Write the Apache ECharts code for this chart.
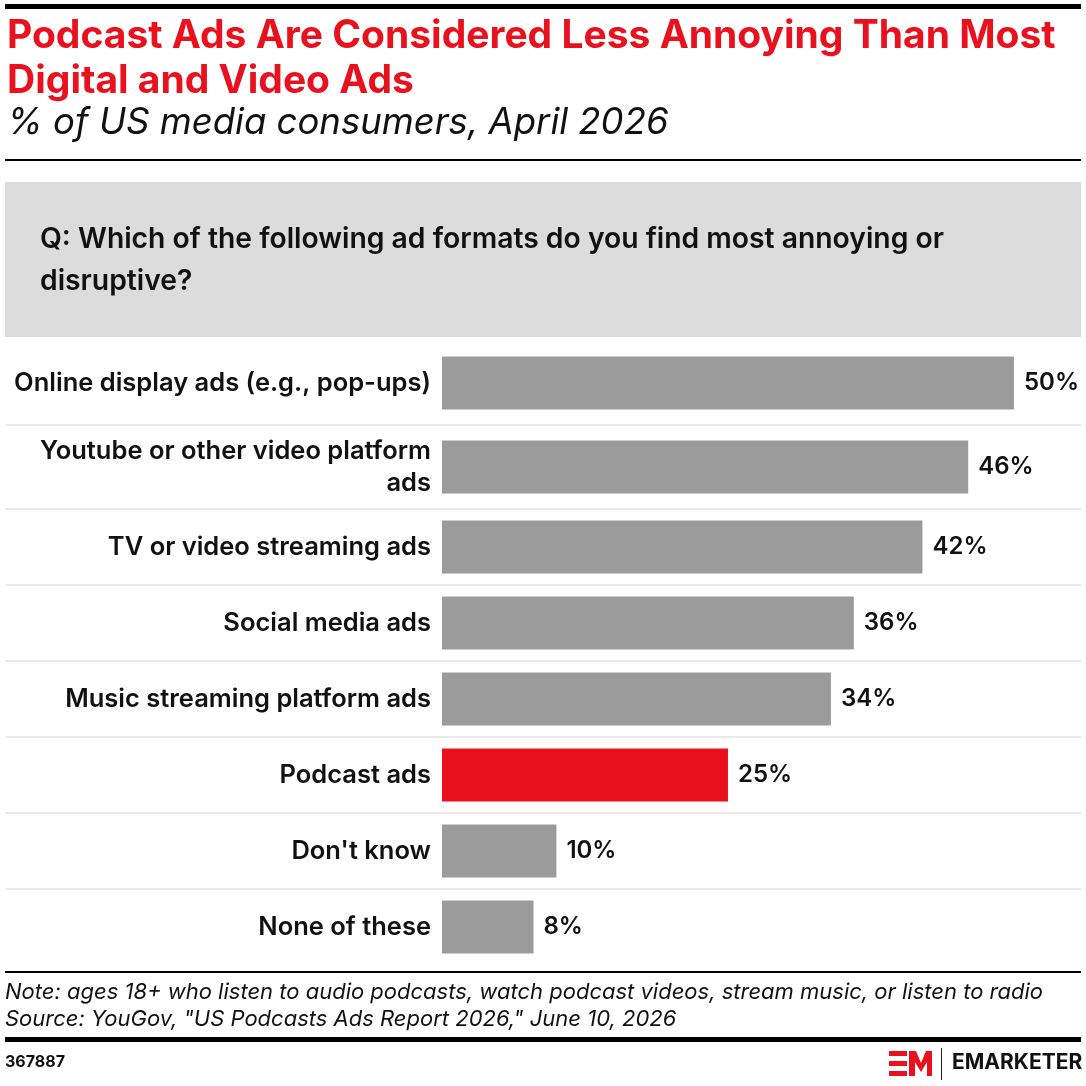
<!DOCTYPE html>
<html lang="en">
<head>
    <meta charset="UTF-8">
    <title>Podcast Ads Are Considered Less Annoying</title>
    <script src="https://cdn.jsdelivr.net/npm/echarts@6/dist/echarts.min.js"></script>
    <style>
        html, body {
            margin: 0;
            padding: 0;
            background: #fff;
        }

        #chart {
            width: 1086px;
            height: 1086px;
        }
    </style>
</head>
<body>
    <div id="chart"></div>
    <script>
        // data
        var categories = [
            'Online display ads (e.g., pop-ups)',
            'Youtube or other video platform\nads',
            'TV or video streaming ads',
            'Social media ads',
            'Music streaming platform ads',
            'Podcast ads',
            "Don't know",
            'None of these'
        ];
        var values = [50, 46, 42, 36, 34, 25, 10, 8];
        var highlightCategory = 'Podcast ads';
        // the first rows are a bit taller in the original, so they get their own grid
        var splitAt = 2;

        var FONT = 'Inter, Roboto, sans-serif';
        var GRAY = '#9b9b9b';
        var RED = '#e8111d';

        var chart = echarts.init(document.getElementById('chart'));

        function barData(cats, vals) {
            return vals.map(function (v, i) {
                return {
                    value: v,
                    itemStyle: { color: cats[i] === highlightCategory ? RED : GRAY }
                };
            });
        }

        var parts = [
            { cats: categories.slice(0, splitAt), vals: values.slice(0, splitAt), top: 341, height: 168, maxLine: true },
            { cats: categories.slice(splitAt), vals: values.slice(splitAt), top: 509, height: 456, maxLine: false }
        ];

        var option = {
            backgroundColor: '#fff',
            animation: false,
            textStyle: { fontFamily: FONT },
            grid: parts.map(function (p) {
                return { left: 5, width: 1076, top: p.top, height: p.height, containLabel: false };
            }),
            xAxis: parts.map(function (p, i) {
                return {
                    type: 'value',
                    gridIndex: i,
                    min: -38.2,
                    max: 55.86,
                    show: false
                };
            }),
            yAxis: parts.map(function (p, i) {
                return {
                    type: 'category',
                    gridIndex: i,
                    data: p.cats,
                    inverse: true,
                    axisLine: { show: false },
                    axisTick: { show: false },
                    splitLine: {
                        show: true,
                        showMinLine: false,
                        showMaxLine: p.maxLine,
                        lineStyle: { color: '#ebebeb', width: 2 }
                    },
                    axisLabel: {
                        margin: -426,
                        align: 'right',
                        color: '#111',
                        fontFamily: FONT,
                        fontSize: 25.5,
                        fontWeight: 600,
                        lineHeight: 32
                    }
                };
            }),
            series: parts.map(function (p, i) {
                return {
                    type: 'bar',
                    xAxisIndex: i,
                    yAxisIndex: i,
                    barWidth: 53,
                    data: barData(p.cats, p.vals),
                    label: {
                        show: true,
                        position: 'right',
                        distance: 10,
                        formatter: '{c}%',
                        color: '#111',
                        fontFamily: FONT,
                        fontSize: 24,
                        fontWeight: 600
                    }
                };
            }),
            graphic: [
                // top rule
                { type: 'rect', shape: { x: 5, y: 4, width: 1076, height: 5 }, style: { fill: '#000' } },
                {
                    type: 'text', left: 7, top: 14,
                    style: {
                        text: 'Podcast Ads Are Considered Less Annoying Than Most\nDigital and Video Ads',
                        fill: RED, font: 'bold 39px ' + FONT, lineHeight: 45
                    }
                },
                {
                    type: 'text', left: 7, top: 105,
                    style: {
                        text: '% of US media consumers, April 2026',
                        fill: '#111', font: 'italic 36.5px ' + FONT
                    }
                },
                { type: 'rect', shape: { x: 5, y: 159, width: 1076, height: 2 }, style: { fill: '#000' } },
                // question box
                { type: 'rect', shape: { x: 5, y: 182, width: 1076, height: 155 }, style: { fill: '#dcdcdc' } },
                {
                    type: 'text', left: 40, top: 218,
                    style: {
                        text: 'Q: Which of the following ad formats do you find most annoying or\ndisruptive?',
                        fill: '#111', font: '600 28.3px ' + FONT, lineHeight: 42
                    }
                },
                // footer
                { type: 'rect', shape: { x: 5, y: 971, width: 1076, height: 2 }, style: { fill: '#000' } },
                {
                    type: 'text', left: 5, top: 979,
                    style: {
                        text: 'Note: ages 18+ who listen to audio podcasts, watch podcast videos, stream music, or listen to radio\n' +
                            'Source: YouGov, "US Podcasts Ads Report 2026," June 10, 2026',
                        fill: '#111', font: 'italic 22px ' + FONT, lineHeight: 27
                    }
                },
                { type: 'rect', shape: { x: 5, y: 1037, width: 1076, height: 5 }, style: { fill: '#000' } },
                {
                    type: 'text', left: 5, top: 1054,
                    style: { text: '367887', fill: '#111', font: 'bold 16px ' + FONT }
                },
                // logo
                { type: 'rect', shape: { x: 889, y: 1051, width: 18, height: 5 }, style: { fill: RED } },
                { type: 'rect', shape: { x: 889, y: 1061, width: 18, height: 5 }, style: { fill: RED } },
                { type: 'rect', shape: { x: 889, y: 1071, width: 18, height: 5 }, style: { fill: RED } },
                {
                    type: 'polygon',
                    shape: { points: [[909, 1076], [909, 1051], [916, 1051], [921, 1063], [926, 1051], [932, 1051], [932, 1076], [927, 1076], [927, 1062], [921, 1072], [915, 1062], [915, 1076]] },
                    style: { fill: RED }
                },
                { type: 'rect', shape: { x: 941, y: 1048, width: 1, height: 32 }, style: { fill: '#222' } },
                {
                    type: 'text', left: 952, top: 1052,
                    style: { text: 'EMARKETER', fill: '#111', font: 'bold 21px ' + FONT }
                }
            ]
        };

        chart.setOption(option);
    </script>
</body>
</html>
